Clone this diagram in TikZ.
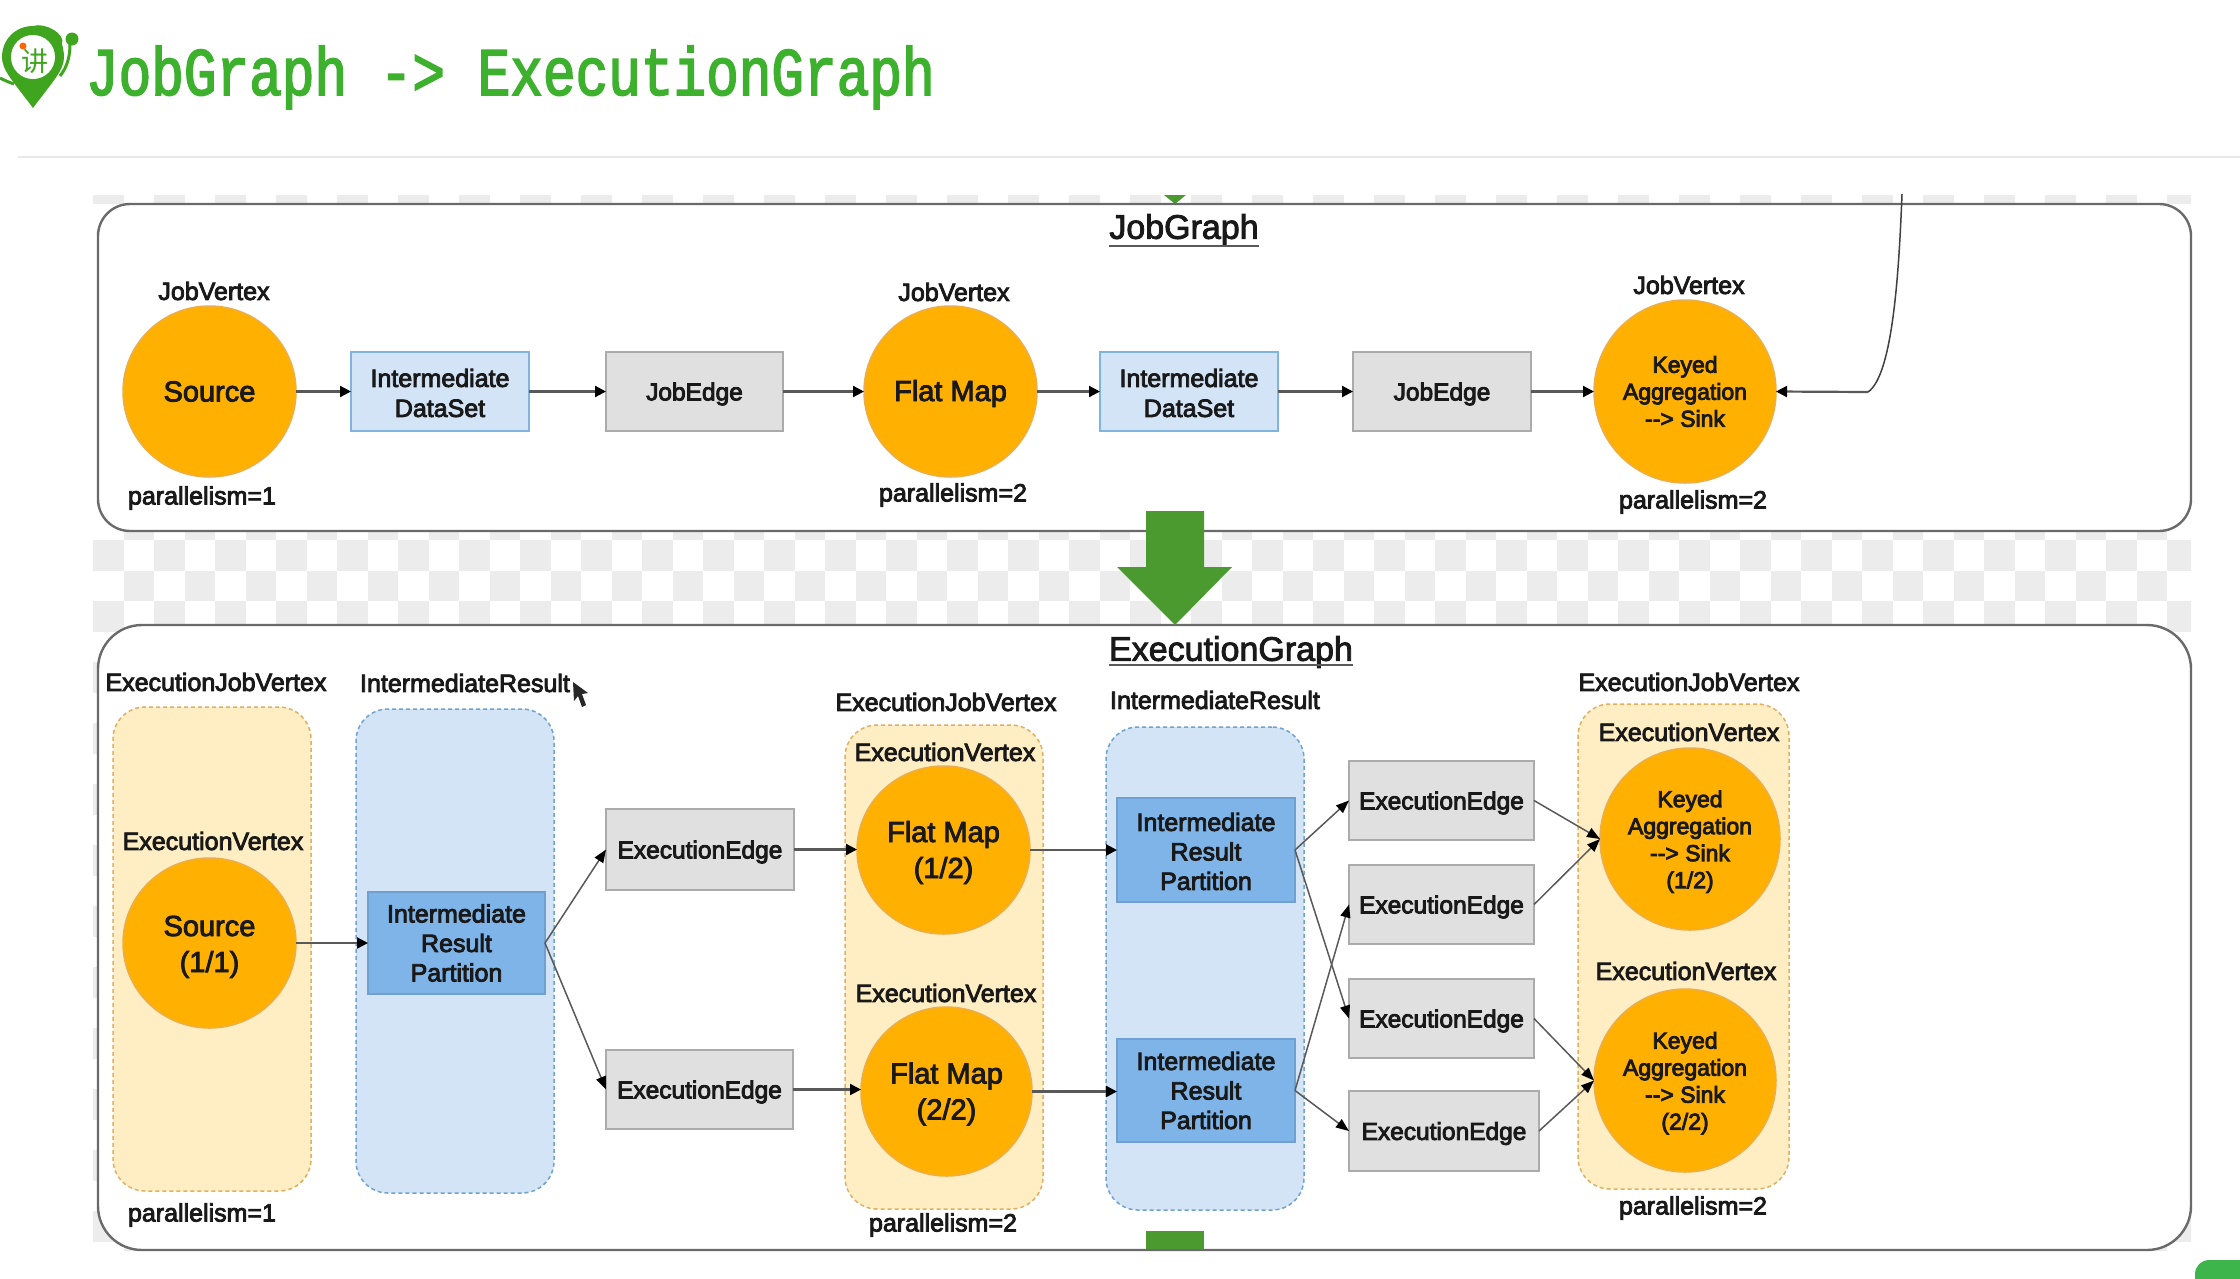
\documentclass[tikz,border=0pt]{standalone}
\usepackage{fontspec}
\usetikzlibrary{shapes.geometric,arrows.meta}
\setmainfont{Liberation Sans}
\newfontfamily\hdfont[FakeStretch=0.8]{Liberation Mono}
\newfontfamily\cjkfont{Noto Sans CJK SC}
\newcommand{\heavy}[1]{\special{pdf:code 2 Tr #1 w}}
\newcommand{\fsz}[2]{\fontsize{#1}{#2}\selectfont\heavy{0.85}}
\newcommand{\dn}[1]{\rule{0pt}{#1pt}}
\definecolor{orangefill}{HTML}{FFB000}
\definecolor{orangeline}{HTML}{EBAE4A}
\definecolor{lightblue}{HTML}{D2E4F6}
\definecolor{blueline}{HTML}{7FB3E0}
\definecolor{midblue}{HTML}{7FB4E8}
\definecolor{midblueline}{HTML}{6FA0D0}
\definecolor{greybox}{HTML}{E0E0E0}
\definecolor{greyline}{HTML}{ABABAB}
\definecolor{yellowfill}{HTML}{FFEEC4}
\definecolor{yellowline}{HTML}{E0B060}
\definecolor{dashblue}{HTML}{6FA3CE}
\definecolor{checker}{HTML}{ECECEC}
\definecolor{frameline}{HTML}{6A6A6A}
\definecolor{bigarrow}{HTML}{4A9A30}
\definecolor{headgreen}{HTML}{3DB02E}
\definecolor{logogreen}{HTML}{3FA51F}
\definecolor{cornergreen}{HTML}{3DB54A}
\tikzset{
  x=1pt,y=-1pt,
  every node/.style={inner sep=0pt,outer sep=0pt,align=center,text=black!90},
  lbl/.style={font=\fsz{25}{29}},
  title/.style={font=\fsz{34}{38}},
  frame/.style={draw=frameline,line width=2.4pt,fill=white},
  flow/.style={draw=black!65,line width=2.2pt,-{Triangle[length=11pt,width=11pt,color=black]}},
  thinflow/.style={draw=black!65,line width=1.5pt,-{Triangle[length=13pt,width=10pt,color=black]}},
  under/.style={draw=black!65,line width=2.4pt},
  gbox/.style={rectangle,draw=greyline,fill=greybox,line width=2pt,font=\fsz{24.5}{29},text depth=0pt},
  lbbox/.style={rectangle,draw=blueline,fill=lightblue,line width=2pt,font=\fsz{25}{30}},
  mbbox/.style={rectangle,draw=midblueline,fill=midblue,line width=2pt,font=\fsz{25}{29.5}},
  circ/.style={ellipse,draw=orangeline,fill=orangefill,line width=1.5pt,font=\fsz{29}{36}},
  circs/.style={circ,font=\fsz{23}{27}},
  ybox/.style={draw=yellowline,fill=yellowfill,dashed,dash pattern=on 4pt off 3pt,line width=1.5pt,rounded corners=32pt},
  bbox/.style={draw=dashblue,fill=lightblue,dashed,dash pattern=on 4pt off 3pt,line width=1.5pt,rounded corners=32pt},
}
% name, style, x1, y1, x2, y2, text
\newcommand{\shp}[7]{\node[#2,minimum width={(#5-#3)*1pt},minimum height={(#6-#4)*1pt}] (#1) at ({(#3+#5)/2},{(#4+#6)/2}) {#7};}
\begin{document}
\begin{tikzpicture}
\useasboundingbox (0,0) rectangle (2240,1278);
\fill[white] (0,0) rectangle (2240,1278);

% header
\fill[logogreen] (62,44) .. controls (66,34) and (45,22) .. (33,26) .. controls (15,26) and (2,40) .. (2,57) .. controls (2,70) and (12,80) .. (33,108) .. controls (54,80) and (64,70) .. (64,57) .. controls (64,52) and (63,48) .. (62,44) -- cycle;
\fill[white] (33,57) circle[radius=22];
\node[font=\cjkfont\fontsize{27}{27}\selectfont,text=logogreen] (logochar) at (35,61) {讲};
\fill[orange!80!red] (23,46) circle[radius=3.5];
\fill[logogreen] (72,39) circle[radius=6.5];
\draw[logogreen,line width=3pt] (70,44) .. controls (70,55) and (68,66) .. (60,76);
\draw[logogreen,line width=3pt] (0,78) .. controls (4,80) and (8,82) .. (14,84);
\node[anchor=base west,text=headgreen,font=\hdfont\fontsize{68}{68}\selectfont\heavy{1.6}] (head) at (86,95) {JobGraph -> ExecutionGraph};
\draw[black!9,line width=2pt] (18,157) -- (2240,157);

% transparent-background checker
\begin{scope}
\clip (93,195) rectangle (2191,1250);
\foreach \c in {0,2,...,68} \fill[checker] ({93+\c*30.5},195) rectangle ++(30.5,9);
\foreach \r in {-1,0,...,23} \foreach \c in {0,1,...,68} {
  \pgfmathtruncatemacro{\on}{mod(\r+\c+100,2)==0 ? 1 : 0}
  \ifnum\on=1 \fill[checker] ({93+\c*30.5},{540+\r*30.5}) rectangle ++(30.5,30.5); \fi
}
\end{scope}
\fill[bigarrow] (1164,195) -- (1186,195) -- (1175,204) -- cycle;

% frames
\draw[frame,rounded corners=32pt] (98,204) rectangle (2191,531);
\draw[frame,rounded corners=44pt] (98,625) rectangle (2191,1250);

% arrow between the graphs
\fill[bigarrow] (1146,511) -- (1204,511) -- (1204,567) -- (1232,567) -- (1175,625) -- (1117,567) -- (1146,567) -- cycle;
\fill[bigarrow] (1146,1231) rectangle (1204,1249);

% JobGraph
\node[title] (t1) at (1184,230) {JobGraph};
\draw[under] (t1.west |- 0,246) -- (t1.east |- 0,246);
\shp{s}{circ}{123}{306}{296}{477}{Source}
\shp{ds1}{lbbox}{351}{352}{529}{431}{\dn{21}Intermediate\\DataSet}
\shp{je1}{gbox}{606}{352}{783}{431}{JobEdge}
\shp{f}{circ}{864}{306}{1037}{477}{\dn{25}Flat Map}
\shp{ds2}{lbbox}{1100}{352}{1278}{431}{\dn{21}Intermediate\\DataSet}
\shp{je2}{gbox}{1353}{352}{1531}{431}{JobEdge}
\shp{k}{circs}{1594}{300}{1776}{483}{Keyed\\Aggregation\\-{}-{}> Sink}
\node[lbl] (jv1) at (214,291) {JobVertex};
\node[lbl] (jv2) at (954,292) {JobVertex};
\node[lbl] (jv3) at (1689,285) {JobVertex};
\node[lbl] (p1) at (202,498) {parallelism=1};
\node[lbl] (p2) at (953,495) {parallelism=2};
\node[lbl] (p3) at (1693,502) {parallelism=2};
\draw[flow] (s.east) -- (ds1.west);
\draw[flow] (ds1.east) -- (je1.west);
\draw[flow] (je1.east) -- (f.west);
\draw[flow] (f.east) -- (ds2.west);
\draw[flow] (ds2.east) -- (je2.west);
\draw[flow] (je2.east) -- (k.west);
\coordinate (fbtop) at (1902,194);
\coordinate (fbbend) at (1868,392);
\draw[black!75,line width=1.5pt] (fbtop) .. controls (1899,270) and (1893,375) .. (fbbend);
\draw[flow] (fbbend) -- (k.east);

% ExecutionGraph
\node[title] (t2) at (1231,652) {ExecutionGraph};
\draw[under] (t2.west |- 0,665) -- (t2.east |- 0,665);

\shp{y1}{ybox}{113}{707}{311}{1191}{}
\shp{b1}{bbox}{356}{709}{554}{1193}{}
\shp{y2}{ybox}{845}{725}{1043}{1209}{}
\shp{b2}{bbox}{1106}{727}{1304}{1210}{}
\shp{y3}{ybox}{1578}{704}{1789}{1189}{}

\node[lbl] (ejv1) at (216,682) {ExecutionJobVertex};
\node[lbl] (ir1) at (465,683) {IntermediateResult};
\node[lbl] (ejv2) at (946,702) {ExecutionJobVertex};
\node[lbl] (ir2) at (1215,700) {IntermediateResult};
\node[lbl] (ejv3) at (1689,682) {ExecutionJobVertex};
\node[lbl] (ev1) at (213,841) {ExecutionVertex};
\node[lbl] (ev2) at (945,752) {ExecutionVertex};
\node[lbl] (ev3) at (946,993) {ExecutionVertex};
\node[lbl] (ev4) at (1689,732) {ExecutionVertex};
\node[lbl] (ev5) at (1686,971) {ExecutionVertex};
\node[lbl] (p4) at (202,1215) {parallelism=1};
\node[lbl] (p5) at (943,1225) {parallelism=2};
\node[lbl] (p6) at (1693,1208) {parallelism=2};

\shp{es}{circ}{123}{858}{296}{1028}{\dn{28}Source\\(1/1)}
\shp{r1}{mbbox}{368}{892}{545}{994}{Intermediate\\Result\\Partition}
\shp{e1}{gbox}{606}{809}{794}{890}{ExecutionEdge}
\shp{e2}{gbox}{606}{1050}{793}{1129}{ExecutionEdge}
\shp{f1}{circ}{857}{766}{1030}{934}{\dn{26}Flat Map\\(1/2)}
\shp{f2}{circ}{861}{1007}{1032}{1176}{\dn{26}Flat Map\\(2/2)}
\shp{r2}{mbbox}{1117}{798}{1295}{902}{\dn{21}Intermediate\\Result\\Partition}
\shp{r3}{mbbox}{1117}{1039}{1295}{1142}{Intermediate\\Result\\Partition}
\shp{ea}{gbox}{1349}{761}{1534}{840}{ExecutionEdge}
\shp{eb}{gbox}{1349}{865}{1534}{944}{ExecutionEdge}
\shp{ec}{gbox}{1349}{979}{1534}{1058}{ExecutionEdge}
\shp{ed}{gbox}{1349}{1091}{1539}{1171}{ExecutionEdge}
\shp{k1}{circs}{1600}{748}{1780}{930}{\dn{22}Keyed\\Aggregation\\-{}-{}> Sink\\(1/2)}
\shp{k2}{circs}{1594}{989}{1776}{1172}{\dn{22}Keyed\\Aggregation\\-{}-{}> Sink\\(2/2)}

\draw[flow] (es.east) -- (r1.west);
\draw[thinflow] (r1.east) -- (e1.west);
\draw[thinflow] (r1.east) -- (e2.west);
\draw[flow] (e1.east) -- (e1.east -| f1.west);
\draw[flow] (e2.east) -- (e2.east -| f2.west);
\draw[flow] (f1.east) -- (f1.east -| r2.west);
\draw[flow] (f2.east) -- (f2.east -| r3.west);
\draw[thinflow] (r2.east) -- (ea.west);
\draw[thinflow] (r2.east) -- (ec.west);
\draw[thinflow] (r3.east) -- (eb.west);
\draw[thinflow] (r3.east) -- (ed.west);
\draw[thinflow] (ea.east) -- (k1.west);
\draw[thinflow] (eb.east) -- (k1.west);
\draw[thinflow] (ec.east) -- (k2.west);
\draw[thinflow] (ed.east) -- (k2.west);

% mouse pointer
\fill[black!85] (573,682) -- (574,701) -- (578,696) -- (582,707) -- (586,705) -- (582,694) -- (588,693) -- cycle;
% corner of a screen element
\fill[cornergreen,rounded corners=14pt] (2195,1260) rectangle (2270,1310);
\end{tikzpicture}
\end{document}
